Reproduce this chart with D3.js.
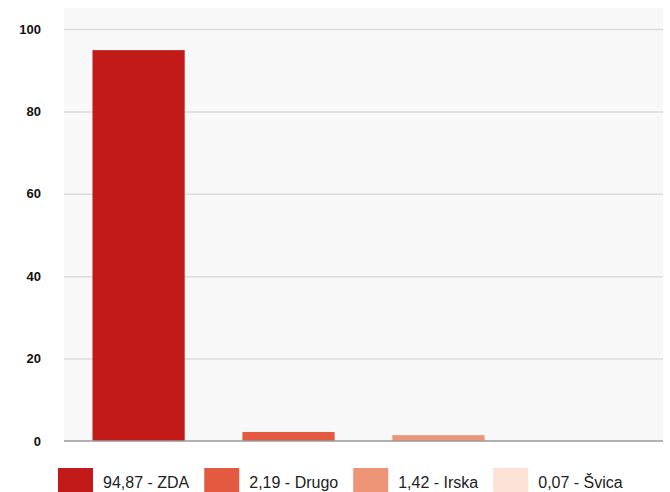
<!DOCTYPE html>
<html>
<head>
<meta charset="utf-8">
<script src="https://cdn.jsdelivr.net/npm/d3@7"></script>
<style>
  body { margin: 0; background: #fff; }
  svg { display: block; font-family: "Liberation Sans", Arial, sans-serif; }
</style>
</head>
<body>
<div id="chart"><svg></svg></div>
<script>
const countries = ["ZDA", "Drugo", "Irska", "Švica"];
const shares = [94.87, 2.19, 1.42, 0.07];
const colors = ["#c11a18", "#e45a40", "#ef9577", "#fde2d8"];
const yTicks = [0, 20, 40, 60, 80, 100];

const width = 670;
const height = 492;
const margin = {top: 8, right: 7, bottom: 51, left: 64};

let data = countries.map((c, i) => ({name: c, value: shares[i], color: colors[i]}));

let svg = d3.select("#chart").select("svg")
    .attr("width", width)
    .attr("height", height);

let x = d3.scaleBand()
    .domain(countries)
    .range([margin.left, width - margin.right])
    .paddingInner(0.385)
    .paddingOuter(0.19);

let y = d3.scaleLinear()
    .domain([0, 100])
    .range([height - margin.bottom, 29]);

// plot background
svg.append("rect")
    .attr("x", margin.left)
    .attr("y", margin.top)
    .attr("width", width - margin.left - margin.right)
    .attr("height", y(0) - margin.top)
    .attr("fill", "#f8f8f8");

// grid + tick labels
let yAxis = svg.append("g")
    .attr("transform", `translate(${margin.left},0)`)
    .call(d3.axisLeft(y).tickValues(yTicks).tickSize(-(width - margin.left - margin.right)).tickPadding(23));

yAxis.select(".domain").remove();
yAxis.selectAll(".tick line")
    .attr("stroke", d => d === 0 ? "none" : "#dcdcdc")
    .attr("stroke-width", 1.5);
yAxis.selectAll(".tick text")
    .attr("fill", "#111")
    .attr("font-size", 13)
    .attr("font-weight", "bold")
    .attr("font-family", "'Liberation Sans Narrow', 'Liberation Sans', Arial, sans-serif");

// bars
svg.selectAll("rect.bar")
    .data(data)
    .enter()
    .append("rect")
    .attr("class", "bar")
    .attr("x", d => x(d.name))
    .attr("y", d => y(d.value))
    .attr("width", x.bandwidth())
    .attr("height", d => y(0) - y(d.value))
    .attr("fill", d => d.color);

// baseline
svg.append("line")
    .attr("x1", margin.left)
    .attr("x2", width - margin.right)
    .attr("y1", y(0))
    .attr("y2", y(0))
    .attr("stroke", "#999")
    .attr("stroke-width", 1.5);

// legend
let legend = svg.append("g").attr("transform", "translate(58,468)");
let lx = 0;
data.forEach(d => {
    let g = legend.append("g").attr("transform", `translate(${lx},0)`);
    g.append("rect")
        .attr("width", 35)
        .attr("height", 26)
        .attr("fill", d.color);
    let t = g.append("text")
        .attr("x", 45)
        .attr("y", 20)
        .attr("font-size", 16)
        .attr("fill", "#222")
        .text(`${d.value.toFixed(2).replace(".", ",")} - ${d.name}`);
    lx += 45 + t.node().getComputedTextLength() + 15;
});
</script>
</body>
</html>
